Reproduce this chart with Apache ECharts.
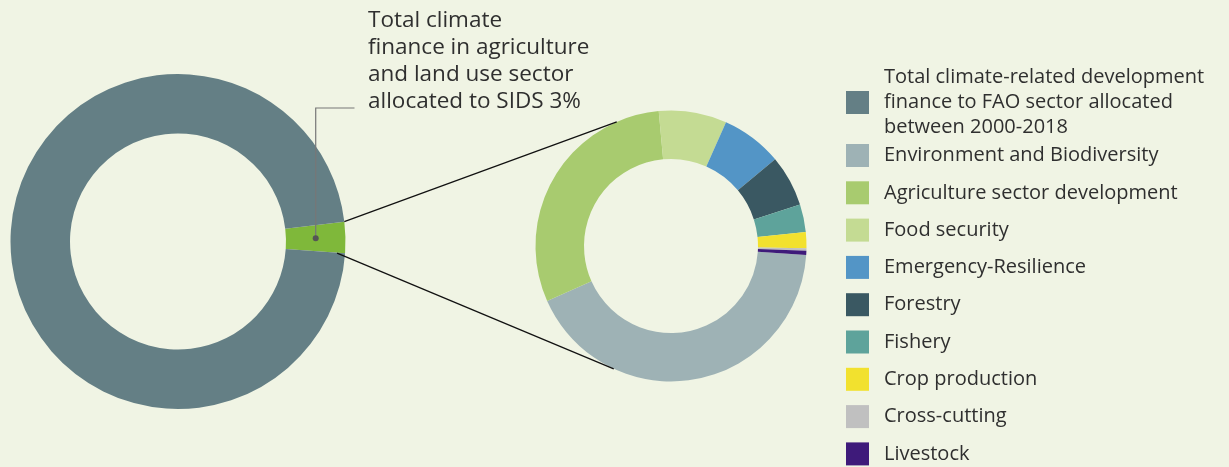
<!DOCTYPE html>
<html>
<head>
<meta charset="utf-8">
<script src="https://cdn.jsdelivr.net/npm/echarts@6/dist/echarts.min.js"></script>
<style>
html,body{margin:0;padding:0;background:#f0f4e4;}
#chart{width:1229px;height:467px;}
</style>
</head>
<body>
<div id="chart"></div>
<script>
// ---- data ----
const totalNames = [
  'Total climate finance in agriculture and land use sector allocated to SIDS',
  'Total climate-related development finance to FAO sector allocated between 2000-2018'
];
const totalShares = [3, 97];
const totalColors = ['#7fb83a', '#647f85'];

const sectorNames = [
  'Environment and Biodiversity',
  'Agriculture sector development',
  'Food security',
  'Emergency-Resilience',
  'Forestry',
  'Fishery',
  'Crop production',
  'Cross-cutting',
  'Livestock'
];
const sectorShares = [42.3, 30.2, 8.1, 7.3, 6.1, 3.3, 1.9, 0.3, 0.5];
const sectorColors = ['#9eb2b5', '#a8cb6f', '#c4db93', '#5395c6', '#3a5862', '#5ea39b', '#f2e12e', '#c0c0c0', '#3e1a7a'];

const annotationLines = ['Total climate', 'finance in agriculture', 'and land use sector', 'allocated to SIDS 3%'];
const legendTotalLines = ['Total climate-related development', 'finance to FAO sector allocated', 'between 2000-2018'];

// ---- layout ----
const FONT = "'Open Sans', sans-serif";
const TXT = '#2f2f2f';
const L = {cx: 178, cy: 241.5, r0: 108, r1: 167.5, start: 6.8};
const R = {cx: 671, cy: 246, r0: 87, r1: 135.5, start: -3.8};

function pt(c, r, deg) {
  const a = deg * Math.PI / 180;
  return [c.cx + r * Math.cos(a), c.cy - r * Math.sin(a)];
}
const sumTotal = totalShares.reduce((a, b) => a + b, 0);
const greenSpan = totalShares[0] / sumTotal * 360;
const greenEnd = L.start - greenSpan;
const greenMid = L.start - greenSpan / 2;
const dot = pt(L, (L.r0 + L.r1) / 2, greenMid);
const topA = pt(L, L.r1, L.start);
const botA = pt(L, 159.5, greenEnd - 0.2);
const topB = pt(R, R.r1, 113.6);
const botB = pt(R, R.r1, 245);

const chart = echarts.init(document.getElementById('chart'), null, {renderer: 'canvas'});
chart.setOption({
  backgroundColor: '#f0f4e4',
  animation: false,
  legend: [
    {
      data: [totalNames[1]],
      orient: 'vertical',
      left: 846, top: 65, padding: 0,
      itemWidth: 23, itemHeight: 23, icon: 'rect',
      selectedMode: false,
      formatter: () => legendTotalLines.join('\n'),
      textStyle: {fontFamily: FONT, fontSize: 20, color: TXT, lineHeight: 25, padding: [0, 0, 0, 10]}
    },
    {
      data: sectorNames,
      orient: 'vertical',
      left: 846, top: 144, padding: 0,
      itemWidth: 23, itemHeight: 23, itemGap: 14.3, icon: 'rect',
      selectedMode: false,
      textStyle: {fontFamily: FONT, fontSize: 20, color: TXT, lineHeight: 23, padding: [0, 0, 0, 10]}
    }
  ],
  series: [
    {
      type: 'pie',
      center: [L.cx, L.cy],
      radius: [L.r0, L.r1],
      startAngle: L.start,
      clockwise: true,
      label: {show: false}, labelLine: {show: false},
      emphasis: {disabled: true},
      data: totalNames.map((n, i) => ({name: n, value: totalShares[i], itemStyle: {color: totalColors[i]}}))
    },
    {
      type: 'pie',
      center: [R.cx, R.cy],
      radius: [R.r0, R.r1],
      startAngle: R.start,
      clockwise: true,
      label: {show: false}, labelLine: {show: false},
      emphasis: {disabled: true},
      data: sectorNames.map((n, i) => ({name: n, value: sectorShares[i], itemStyle: {color: sectorColors[i]}}))
    }
  ],
  graphic: [
    {type: 'line', z: 100, shape: {x1: topA[0], y1: topA[1], x2: topB[0], y2: topB[1]}, style: {stroke: '#111', lineWidth: 1.3}},
    {type: 'line', z: 100, shape: {x1: botA[0], y1: botA[1], x2: botB[0], y2: botB[1]}, style: {stroke: '#111', lineWidth: 1.3}},
    {type: 'polyline', z: 100, shape: {points: [[dot[0], dot[1]], [dot[0], 108], [354.5, 108]]}, style: {stroke: '#777', lineWidth: 1.2, fill: null}},
    {type: 'circle', z: 101, shape: {cx: dot[0], cy: dot[1], r: 3}, style: {fill: '#555'}},
    {type: 'text', z: 100, left: 368, top: 7, style: {text: annotationLines.join('\n'), font: '22.5px ' + FONT, fill: TXT, lineHeight: 27}}
  ]
});
</script>
</body>
</html>
